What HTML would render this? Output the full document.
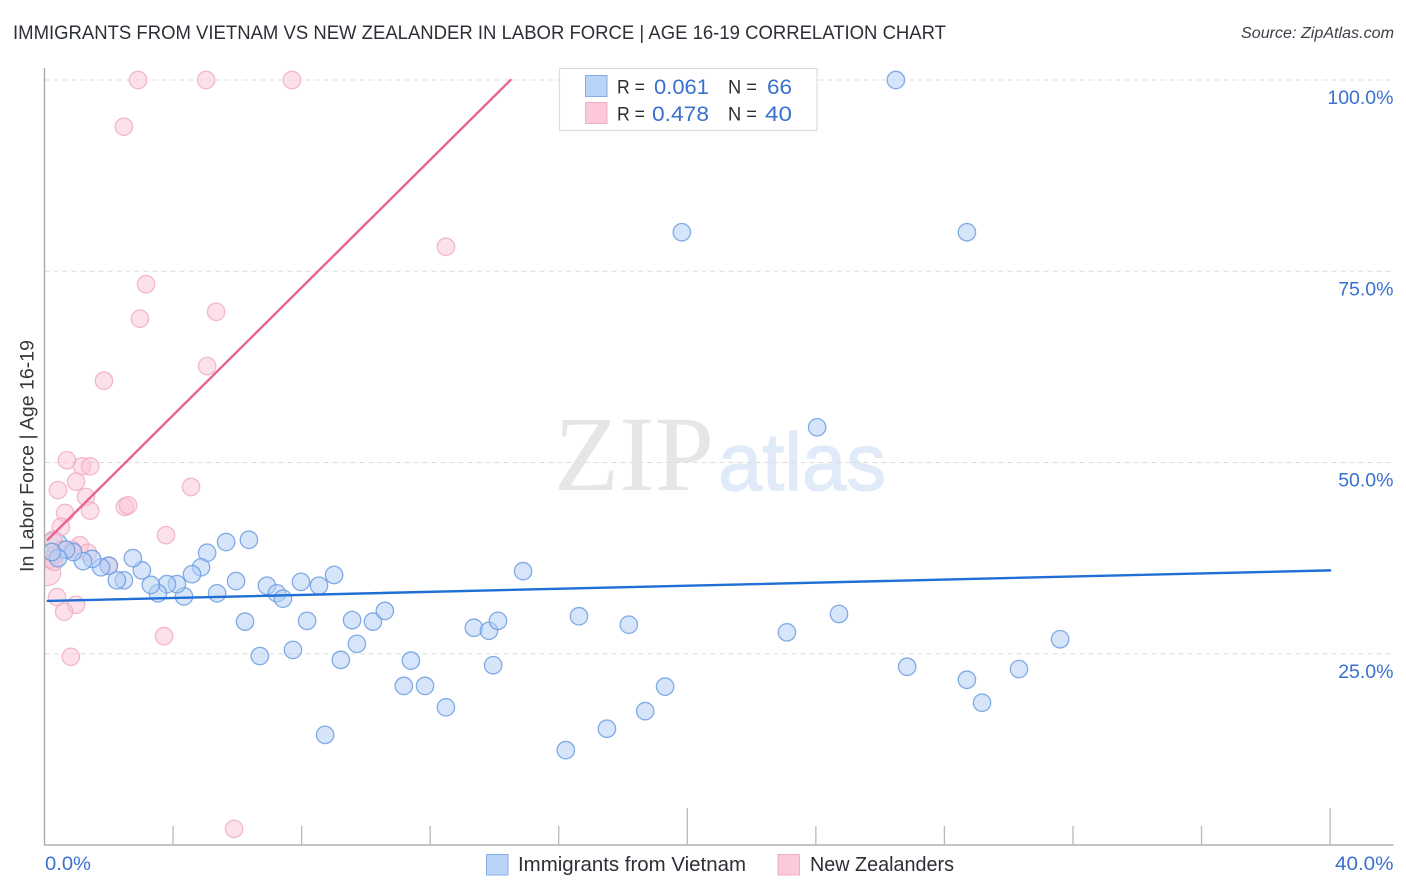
<!DOCTYPE html>
<html lang="en">
<head>
<meta charset="utf-8">
<title>Immigrants from Vietnam vs New Zealander in Labor Force | Age 16-19 Correlation Chart</title>
<style>
html,body{margin:0;padding:0;background:#fff;width:1406px;height:892px;overflow:hidden}
svg{display:block;font-family:"Liberation Sans",sans-serif}
</style>
</head>
<body>
<svg id="chart" xmlns="http://www.w3.org/2000/svg" width="1406" height="892" viewBox="0 0 1406 892">
  <defs><clipPath id="plot-clip"><rect x="45" y="60" width="1350" height="785"/></clipPath></defs>
  <rect x="0" y="0" width="1406" height="892" fill="#fff"/>
  <text x="13" y="39" font-size="19" fill="#2b2f36" textLength="933" lengthAdjust="spacingAndGlyphs">IMMIGRANTS FROM VIETNAM VS NEW ZEALANDER IN LABOR FORCE | AGE 16-19 CORRELATION CHART</text>
  <text x="1241" y="38" font-size="15.5" font-style="italic" fill="#3c4048" textLength="153" lengthAdjust="spacingAndGlyphs">Source: ZipAtlas.com</text>
  <text x="554" y="490" font-family="'Liberation Serif',serif" font-size="107" fill="#e6e6e6" textLength="160" lengthAdjust="spacingAndGlyphs">ZIP</text>
  <text x="718" y="490" font-size="82" fill="#e0eaf8" stroke="#e0eaf8" stroke-width="1.2" textLength="168" lengthAdjust="spacingAndGlyphs">atlas</text>
  <g id="grid"></g>
  <g id="axes"></g>
  <g id="points" clip-path="url(#plot-clip)"></g>
  <g id="trends"></g>
  <g id="labels"></g>
  <text transform="translate(33.5,456) rotate(-90)" font-size="19.5" fill="#33373e" text-anchor="middle" textLength="232" lengthAdjust="spacingAndGlyphs">In Labor Force | Age 16-19</text>

  <g>
    <rect x="559.5" y="68.5" width="257.5" height="62" fill="#fff" stroke="#dddddd" stroke-width="1.2"/>
    <rect x="585.5" y="75.5" width="21.5" height="21" fill="#b9d4f7" stroke="#84aee6" stroke-width="1"/>
    <rect x="585.5" y="102.5" width="21.5" height="21" fill="#fcc9d9" stroke="#efaec4" stroke-width="1"/>
    <text x="617" y="93.5" font-size="19.5" fill="#2b2f36" textLength="28" lengthAdjust="spacingAndGlyphs">R =</text>
    <text x="654" y="94" font-size="21.5" fill="#3a70d0" textLength="55" lengthAdjust="spacingAndGlyphs">0.061</text>
    <text x="728" y="93.5" font-size="19.5" fill="#2b2f36" textLength="29" lengthAdjust="spacingAndGlyphs">N =</text>
    <text x="767" y="94" font-size="21.5" fill="#3a70d0" textLength="25" lengthAdjust="spacingAndGlyphs">66</text>
    <text x="617" y="120.5" font-size="19.5" fill="#2b2f36" textLength="28" lengthAdjust="spacingAndGlyphs">R =</text>
    <text x="652" y="121" font-size="21.5" fill="#3a70d0" textLength="57" lengthAdjust="spacingAndGlyphs">0.478</text>
    <text x="728" y="120.5" font-size="19.5" fill="#2b2f36" textLength="29" lengthAdjust="spacingAndGlyphs">N =</text>
    <text x="765" y="121" font-size="21.5" fill="#3a70d0" textLength="27" lengthAdjust="spacingAndGlyphs">40</text>
  </g>

  <g>
    <rect x="486.5" y="854.5" width="21.5" height="20.5" fill="#b9d4f7" stroke="#84aee6" stroke-width="1"/>
    <text x="518" y="871" font-size="20" fill="#2b2f36" textLength="228" lengthAdjust="spacingAndGlyphs">Immigrants from Vietnam</text>
    <rect x="778" y="854.5" width="21.5" height="20.5" fill="#fcc9d9" stroke="#efaec4" stroke-width="1"/>
    <text x="810" y="871" font-size="20" fill="#2b2f36" textLength="144" lengthAdjust="spacingAndGlyphs">New Zealanders</text>
  </g>
</svg>
<script>
// Data values (percent)
const yTickValues = [25, 50, 75, 100];
const yTickLabels = ['25.0%', '50.0%', '75.0%', '100.0%'];
const xTickValues = [4, 8, 12, 16, 20, 24, 28, 32, 36, 40];
const xMajorTicks = [20, 40];
const xEndValues = [0, 40];
const xEndLabels = ['0.0%', '40.0%'];

const vietnamX = [26.49,19.83,28.70,24.04,14.89,6.36,5.65,5.06,4.87,4.59,5.96,6.92,7.23,7.42,7.98,8.54,9.01,5.37,4.34,4.12,3.81,3.53,3.31,3.03,2.75,2.47,2.25,2.0,1.76,1.48,1.2,0.89,0.67,0.42,0.23,6.24,8.17,9.57,10.22,10.59,6.7,7.73,9.22,9.72,11.4,11.18,11.84,12.49,8.73,13.36,13.83,14.11,13.96,16.22,17.5,18.69,19.31,16.63,18.18,23.1,24.72,26.84,28.7,29.17,30.32,31.6];
const vietnamY = [100,80.1,80.1,54.6,35.8,39.9,39.6,38.2,36.3,35.4,34.5,33.9,32.9,32.2,34.4,33.9,35.3,32.9,32.5,34.1,34.1,32.9,34.0,35.9,37.5,34.6,34.6,36.5,36.3,37.4,37.1,38.3,38.6,37.5,38.3,29.2,29.3,29.4,29.2,30.6,24.7,25.5,24.2,26.3,24.1,20.8,20.8,18.0,14.4,28.4,28.0,29.3,23.5,12.4,15.2,17.5,20.7,29.9,28.8,27.8,30.2,23.3,21.6,18.6,23.0,26.9];
const vietnamLargeX = [0.3];
const vietnamLargeY = [39.0];

const zealandX = [2.91,5.03,7.7,2.47,12.49,3.16,2.97,5.34,5.06,1.85,0.7,1.17,1.42,0.98,0.42,4.56,1.29,0.64,1.42,2.5,2.6,0.51,3.78,0.27,1.1,1.35,0.86,2.0,0.33,0.17,0.39,0.98,0.61,3.72,0.82,5.9,0.55,0.3];
const zealandY = [100,100,100,93.9,78.2,73.3,68.8,69.7,62.6,60.7,50.3,49.5,49.5,47.5,46.4,46.8,45.5,43.4,43.7,44.2,44.4,41.6,40.5,39.9,39.2,38.2,38.6,36.5,37.9,37.3,32.4,31.4,30.5,27.3,24.6,2.1,38.6,37.0];
const zealandLargeX = [0.1];
const zealandLargeY = [35.6];

const vietnamTrendX = [0.1, 40];
const vietnamTrendY = [31.9, 35.9];
const zealandTrendX = [0.1, 14.5];
const zealandTrendY = [39.9, 100];

// Axis functions
function xScale(v) { return 44.5 + v * 32.14; }
function yScale(v) { return 845 - v * 7.65; }

const NS = 'http://www.w3.org/2000/svg';
function make(parentId, tag, attrs, text) {
  const el = document.createElementNS(NS, tag);
  for (const k in attrs) el.setAttribute(k, attrs[k]);
  if (text !== undefined) el.textContent = text;
  document.getElementById(parentId).appendChild(el);
  return el;
}

// Gridlines
yTickValues.forEach(function (v) {
  const el = make('grid', 'line', {x1: 44.5, x2: 1393, y1: yScale(v), y2: yScale(v), stroke: '#dcdcdc', 'stroke-width': 1, 'stroke-dasharray': '5 4'});
  
  
});

// Axes
const yAxis = make('axes', 'line', {x1: 44.5, x2: 44.5, y1: 68, y2: 845.5, stroke: '#a9a9a9', 'stroke-width': 1.4});


const xAxis = make('axes', 'line', {x1: 44, x2: 1393.5, y1: 845, y2: 845, stroke: '#b0b0b0', 'stroke-width': 1.4});


xTickValues.forEach(function (v) {
  const top = xMajorTicks.indexOf(v) >= 0 ? 808 : 826;
  const el = make('axes', 'line', {x1: xScale(v), x2: xScale(v), y1: top, y2: 845, stroke: '#b8b8b8', 'stroke-width': 1.3});
  
  
});

// Points
function drawPoints(xs, ys, r, fill, opacity, stroke, name) {
  xs.forEach(function (x, i) {
    const el = make('points', 'circle', {cx: xScale(x), cy: yScale(ys[i]), r: r, fill: fill, 'fill-opacity': opacity, stroke: stroke, 'stroke-opacity': 0.8, 'stroke-width': 1.3});
    
    
  });
}
drawPoints(zealandLargeX, zealandLargeY, 13, '#fbc4d6', 0.5, '#f0b0c5', 'new-zealanders-point');
drawPoints(vietnamLargeX, vietnamLargeY, 14, '#b5d0f5', 0.55, '#6f9fe2', 'vietnam-point');
drawPoints(zealandX, zealandY, 8.7, '#fbc4d6', 0.5, '#eeaac2', 'new-zealanders-point');
drawPoints(vietnamX, vietnamY, 8.7, '#b5d0f5', 0.55, '#6698e0', 'vietnam-point');

// Trend lines
function drawTrend(xs, ys, color, name) {
  const el = make('trends', 'line', {x1: xScale(xs[0]), y1: yScale(ys[0]), x2: xScale(xs[1]), y2: yScale(ys[1]), stroke: color, 'stroke-width': 2.4, 'stroke-linecap': 'round'});
  
  
}
drawTrend(zealandTrendX, zealandTrendY, '#e8648e', 'new-zealanders-trend-line');
drawTrend(vietnamTrendX, vietnamTrendY, '#1f6fd6', 'vietnam-trend-line');

// Tick labels
yTickValues.forEach(function (v, i) {
  const el = make('labels', 'text', {x: 1393.5, y: yScale(v) + 24, 'font-size': 19.5, fill: '#3a70d0', 'text-anchor': 'end'}, yTickLabels[i]);
  
  
});
const xLabelLow = make('labels', 'text', {x: xScale(xEndValues[0]) + 0.5, y: 870, 'font-size': 19.5, fill: '#3a70d0', textLength: 46, lengthAdjust: 'spacingAndGlyphs'}, xEndLabels[0]);


const xLabelHigh = make('labels', 'text', {x: xScale(xEndValues[1]) + 4.9, y: 870, 'font-size': 19.5, fill: '#3a70d0', textLength: 58.5, lengthAdjust: 'spacingAndGlyphs'}, xEndLabels[1]);


</script>
</body>
</html>
